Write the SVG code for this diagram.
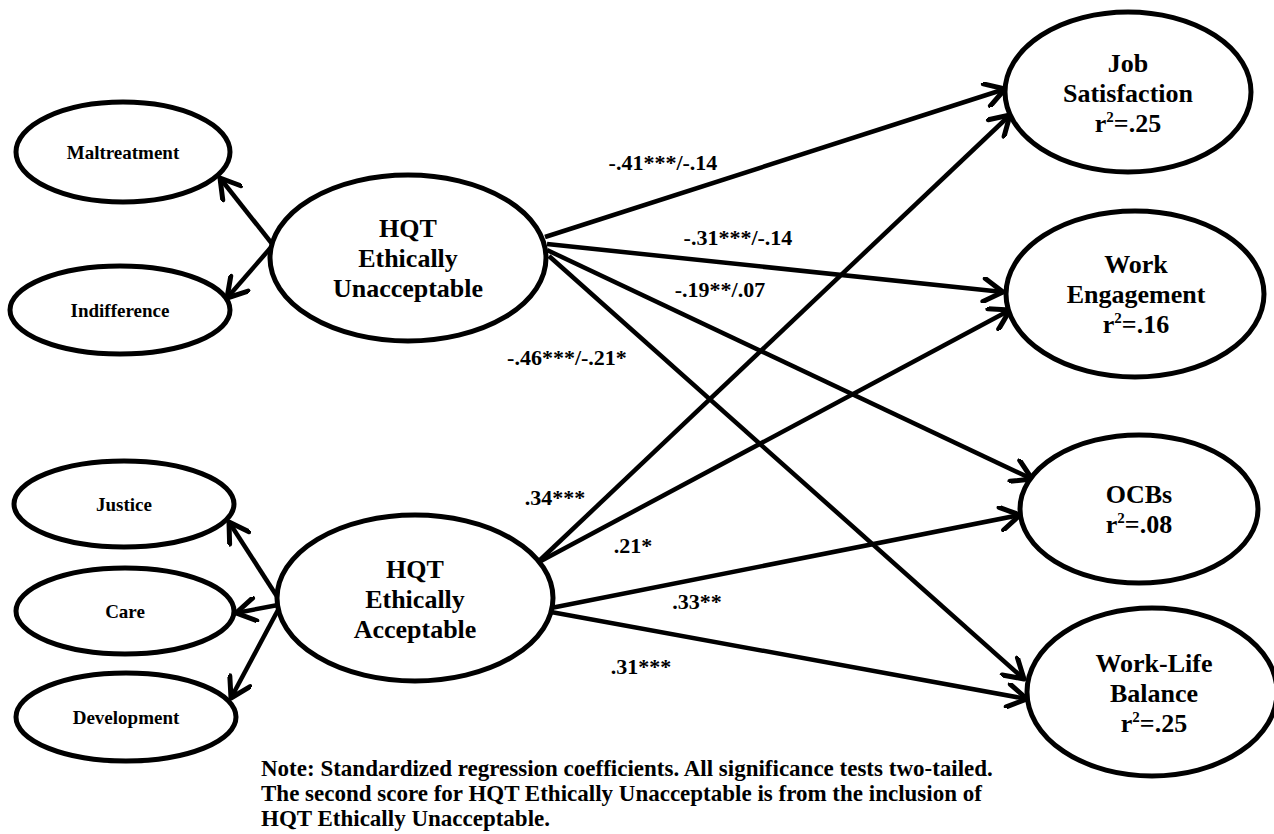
<svg xmlns="http://www.w3.org/2000/svg" width="1274" height="834" viewBox="0 0 1274 834">
<defs>
<style>
.node ellipse{fill:#fff;stroke:#000;stroke-width:5}
text{font-family:"Liberation Serif","Times New Roman",serif;font-weight:bold;fill:#000;text-anchor:middle}
.big{font-size:26px}
.small{font-size:19px}
.coef{font-size:22px}
.note{font-size:23px;text-anchor:start}
.conn line{stroke:#000;stroke-width:4.5;fill:none;marker-end:url(#arr)}
</style>
<marker id="arr" viewBox="0 0 26 26" refX="23" refY="13" markerWidth="26" markerHeight="26" markerUnits="userSpaceOnUse" orient="auto">
<path d="M4,1.5 L23,13 L4,24.5" fill="none" stroke="#000" stroke-width="5" stroke-linecap="round" stroke-linejoin="round"/>
</marker>
</defs>
<rect width="1274" height="834" fill="#fff"/>

<g id="connectors" class="conn">
<line x1="273" y1="245" x2="220" y2="178"/>
<line x1="273" y1="245" x2="227" y2="298"/>
<line x1="278" y1="598" x2="229" y2="522"/>
<line x1="278" y1="605" x2="236" y2="613"/>
<line x1="278" y1="610" x2="231" y2="698"/>
<line x1="545" y1="237" x2="1005" y2="89"/>
<line x1="539" y1="561" x2="1010" y2="115"/>
<line x1="547" y1="244" x2="1003" y2="292"/>
<line x1="539" y1="562" x2="1010" y2="310"/>
<line x1="547" y1="250" x2="1032" y2="479"/>
<line x1="551" y1="608" x2="1020" y2="515"/>
<line x1="549" y1="256" x2="1024" y2="679"/>
<line x1="551" y1="612" x2="1027" y2="699"/>
</g>

<g id="maltreatment" class="node"><ellipse cx="123" cy="152" rx="107" ry="50"/><text class="small" x="123" y="159">Maltreatment</text></g>
<g id="indifference" class="node"><ellipse cx="120" cy="310" rx="110" ry="44"/><text class="small" x="120" y="317">Indifference</text></g>
<g id="hqt-unacceptable" class="node"><ellipse cx="408" cy="258" rx="138" ry="83"/>
<text class="big" x="408" y="237">HQT</text><text class="big" x="408" y="267">Ethically</text><text class="big" x="408" y="297">Unacceptable</text></g>
<g id="hqt-acceptable" class="node"><ellipse cx="415" cy="598" rx="138" ry="83"/>
<text class="big" x="415" y="578">HQT</text><text class="big" x="415" y="608">Ethically</text><text class="big" x="415" y="638">Acceptable</text></g>
<g id="justice" class="node"><ellipse cx="124" cy="504" rx="110" ry="43"/><text class="small" x="124" y="511">Justice</text></g>
<g id="care" class="node"><ellipse cx="125" cy="611" rx="109" ry="43"/><text class="small" x="125" y="618">Care</text></g>
<g id="development" class="node"><ellipse cx="126" cy="717" rx="110" ry="44"/><text class="small" x="126" y="724">Development</text></g>
<g id="job-satisfaction" class="node"><ellipse cx="1128" cy="92" rx="123" ry="80"/>
<text class="big" x="1128" y="72">Job</text><text class="big" x="1128" y="102">Satisfaction</text><text class="big" x="1128" y="132">r<tspan dy="-10" font-size="15">2</tspan><tspan dy="10">=.25</tspan></text></g>
<g id="work-engagement" class="node"><ellipse cx="1135" cy="294" rx="129" ry="83"/>
<text class="big" x="1136" y="273">Work</text><text class="big" x="1136" y="303">Engagement</text><text class="big" x="1136" y="333">r<tspan dy="-10" font-size="15">2</tspan><tspan dy="10">=.16</tspan></text></g>
<g id="ocbs" class="node"><ellipse cx="1139" cy="509" rx="119" ry="74"/>
<text class="big" x="1139" y="503">OCBs</text><text class="big" x="1139" y="533">r<tspan dy="-10" font-size="15">2</tspan><tspan dy="10">=.08</tspan></text></g>
<g id="work-life-balance" class="node"><ellipse cx="1152" cy="692" rx="125" ry="84"/>
<text class="big" x="1154" y="672">Work-Life</text><text class="big" x="1154" y="702">Balance</text><text class="big" x="1154" y="732">r<tspan dy="-10" font-size="15">2</tspan><tspan dy="10">=.25</tspan></text></g>

<g id="labels">
<text class="coef" x="663" y="170">-.41***/-.14</text>
<text class="coef" x="738" y="245">-.31***/-.14</text>
<text class="coef" x="720" y="297">-.19**/.07</text>
<text class="coef" x="567" y="365">-.46***/-.21*</text>
<text class="coef" x="555" y="505">.34***</text>
<text class="coef" x="633" y="553">.21*</text>
<text class="coef" x="697" y="609">.33**</text>
<text class="coef" x="641" y="674">.31***</text>
</g>

<g id="note">
<text class="note" x="261" y="776">Note: Standardized regression coefficients. All significance tests two-tailed.</text>
<text class="note" x="261" y="801">The second score for HQT Ethically Unacceptable is from the inclusion of</text>
<text class="note" x="261" y="826">HQT Ethically Unacceptable.</text>
</g>
</svg>
